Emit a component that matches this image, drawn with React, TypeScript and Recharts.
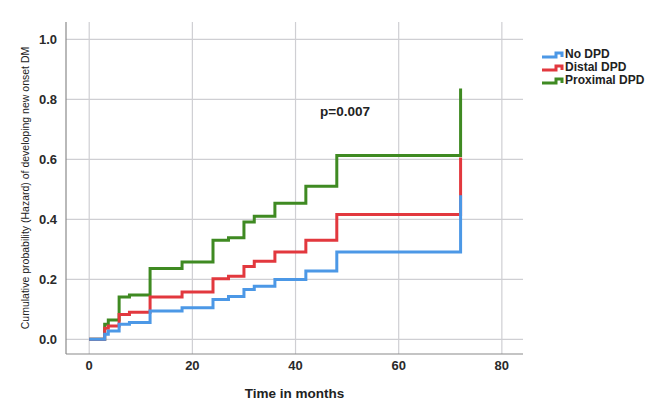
import React from "react";
import { LineChart, Line, XAxis, YAxis, CartesianGrid, Label } from "recharts";

const times = [0, 3, 3.7, 5.8, 7.8, 11.8, 18, 24, 27, 30, 32, 36, 42, 48, 72];
const noDpd = [0, 0.017, 0.028, 0.05, 0.056, 0.094, 0.105, 0.133, 0.143, 0.166, 0.177, 0.199, 0.228, 0.291, 0.48];
const distalDpd = [0, 0.037, 0.044, 0.083, 0.09, 0.141, 0.158, 0.202, 0.21, 0.243, 0.26, 0.291, 0.33, 0.416, 0.606];
const proximalDpd = [0, 0.05, 0.064, 0.141, 0.148, 0.236, 0.258, 0.33, 0.339, 0.391, 0.41, 0.454, 0.51, 0.613, 0.836];

const xTicks = [0, 20, 40, 60, 80];
const yTicks = [0, 0.2, 0.4, 0.6, 0.8, 1.0];

const seriesInfo = [
  { key: "no", name: "No DPD", color: "#4c98e6" },
  { key: "distal", name: "Distal DPD", color: "#e2383e" },
  { key: "proximal", name: "Proximal DPD", color: "#3f8a22" },
];

const data = times.map((t, i) => ({
  t,
  no: noDpd[i],
  distal: distalDpd[i],
  proximal: proximalDpd[i],
}));

const FONT = "'Liberation Sans', Arial, sans-serif";

const LegendBox = () => (
  <div
    style={{
      position: "absolute",
      left: 541,
      top: 48,
      fontFamily: FONT,
      fontWeight: "bold",
      fontSize: 12,
      color: "#222",
      lineHeight: "13px",
    }}
  >
    {seriesInfo.map((s) => (
      <div key={s.key} style={{ display: "flex", alignItems: "center", whiteSpace: "nowrap" }}>
        <svg width={23} height={10} style={{ marginRight: 1 }}>
          <path d="M1,7 H15 V3 H21 V7" fill="none" stroke={s.color} strokeWidth={3} />
        </svg>
        <span>{s.name}</span>
      </div>
    ))}
  </div>
);

export default function App() {
  return (
    <div style={{ position: "absolute", left: 0, top: 0, width: 646, height: 408, background: "#fff", overflow: "hidden" }}>
      <LineChart
        width={646}
        height={408}
        data={data}
        margin={{ top: 22, right: 123, bottom: 24, left: 20 }}
      >
        <CartesianGrid stroke="#cfcfd3" strokeWidth={1.2} horizontalValues={yTicks} verticalValues={xTicks} />
        <XAxis
          dataKey="t"
          type="number"
          domain={[-4.5, 84.1]}
          ticks={xTicks}
          allowDataOverflow
          height={30}
          tickLine={false}
          tickSize={6}
          tickMargin={1}
          axisLine={{ stroke: "#8a8a8a", strokeWidth: 1.2 }}
          tick={{ fill: "#2a2a2a", fontSize: 13, fontWeight: "bold", fontFamily: FONT }}
        >
          <Label
            value="Time in months"
            position="insideBottom"
            offset={-14}
            style={{ fill: "#222", fontSize: 13.5, fontWeight: "bold", fontFamily: FONT }}
          />
        </XAxis>
        <YAxis
          type="number"
          domain={[-0.049, 1.058]}
          ticks={yTicks}
          allowDataOverflow
          width={46}
          tickLine={false}
          tickSize={6}
          tickMargin={3}
          tickFormatter={(v: number) => v.toFixed(1)}
          axisLine={{ stroke: "#8a8a8a", strokeWidth: 1.2 }}
          tick={{ fill: "#2a2a2a", fontSize: 13, fontWeight: "bold", fontFamily: FONT }}
        >
          <Label
            value="Cumulative probability (Hazard) of developing new onset DM"
            angle={-90}
            position="insideLeft"
            offset={5}
            style={{ textAnchor: "middle", fill: "#222", fontSize: 10.5, fontFamily: FONT }}
          />
        </YAxis>
        {[...seriesInfo].reverse().map((s) => (
          <Line
            key={s.key}
            dataKey={s.key}
            name={s.name}
            type="stepAfter"
            stroke={s.color}
            strokeWidth={3}
            dot={false}
            activeDot={false}
            isAnimationActive={false}
          />
        ))}
      </LineChart>
      <LegendBox />
      <div
        style={{
          position: "absolute",
          left: 320,
          top: 104,
          fontFamily: FONT,
          fontWeight: "bold",
          fontSize: 13.5,
          color: "#222",
        }}
      >
        p=0.007
      </div>
    </div>
  );
}
